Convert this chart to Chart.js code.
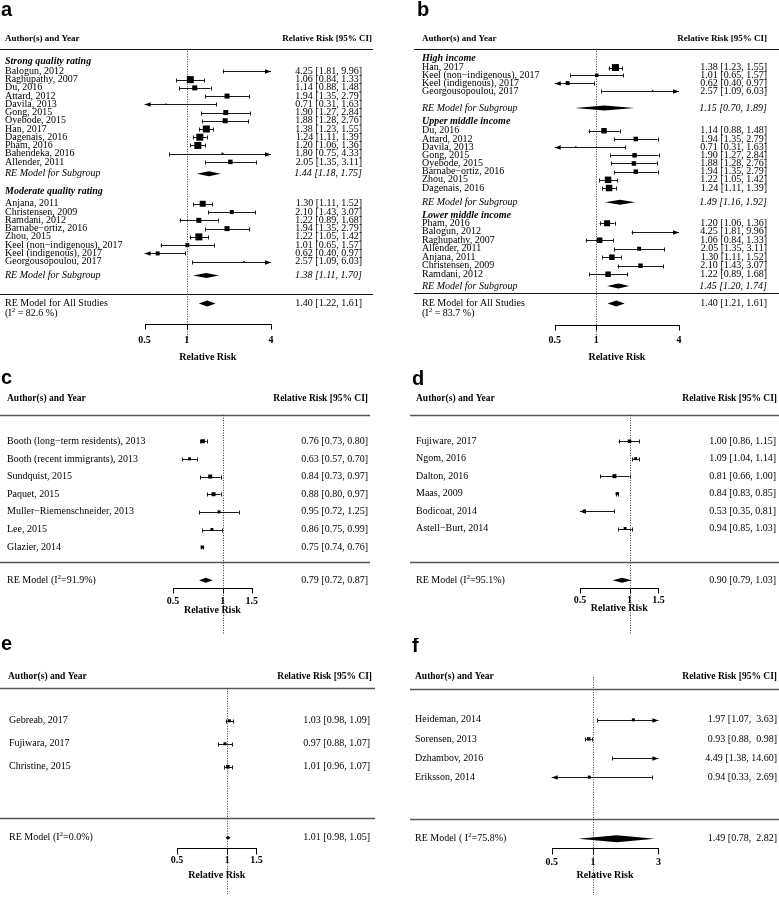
<!DOCTYPE html>
<html lang="en">
<head>
<meta charset="UTF-8">
<title>Forest plots a-f</title>
<script src="https://cdn.jsdelivr.net/npm/chart.js@4.4.0/dist/chart.umd.min.js"></script>
<style>
  html, body { margin: 0; padding: 0; background: #fff; }
  #fig { position: relative; width: 779px; height: 899px; overflow: hidden; }
  #fig canvas { position: absolute; }
</style>
</head>
<body>
<div id="fig">
  <canvas id="pa"></canvas><canvas id="pb"></canvas>
  <canvas id="pc"></canvas><canvas id="pd"></canvas>
  <canvas id="pe"></canvas><canvas id="pf"></canvas>
</div>
<script>
// ---------- data ----------
// a: by study quality
const aStrongStudies = ['Balogun, 2012', 'Raghupathy, 2007', 'Du, 2016', 'Attard, 2012', 'Davila, 2013', 'Gong, 2015',
  'Oyebode, 2015', 'Han, 2017', 'Dagenais, 2016', 'Pham, 2016', 'Bahendeka, 2016', 'Allender, 2011'];
const aStrongRR = [4.25, 1.06, 1.14, 1.94, 0.71, 1.90, 1.88, 1.38, 1.24, 1.20, 1.80, 2.05];
const aStrongLo = [1.81, 0.84, 0.88, 1.35, 0.31, 1.27, 1.28, 1.23, 1.11, 1.06, 0.75, 1.35];
const aStrongHi = [9.96, 1.33, 1.48, 2.79, 1.63, 2.84, 2.76, 1.55, 1.39, 1.36, 4.33, 3.11];
const aStrongSub = [1.44, 1.18, 1.75];
const aModStudies = ['Anjana, 2011', 'Christensen, 2009', 'Ramdani, 2012', 'Barnabe\u2212ortiz, 2016', 'Zhou, 2015',
  'Keel (non\u2212indigenous), 2017', 'Keel (indigenous), 2017', 'Georgousopoulou, 2017'];
const aModRR = [1.30, 2.10, 1.22, 1.94, 1.22, 1.01, 0.62, 2.57];
const aModLo = [1.11, 1.43, 0.89, 1.35, 1.05, 0.65, 0.40, 1.09];
const aModHi = [1.52, 3.07, 1.68, 2.79, 1.42, 1.57, 0.97, 6.03];
const aModSub = [1.38, 1.11, 1.70];
const aAll = [1.40, 1.22, 1.61];
const aI2 = 82.6;
const aTicks = [0.5, 1, 4];

// b: by country income
const bHighStudies = ['Han, 2017', 'Keel (non\u2212indigenous), 2017', 'Keel (indigenous), 2017', 'Georgousopoulou, 2017'];
const bHighRR = [1.38, 1.01, 0.62, 2.57];
const bHighLo = [1.23, 0.65, 0.40, 1.09];
const bHighHi = [1.55, 1.57, 0.97, 6.03];
const bHighSub = [1.15, 0.70, 1.89];
const bUpperStudies = ['Du, 2016', 'Attard, 2012', 'Davila, 2013', 'Gong, 2015', 'Oyebode, 2015',
  'Barnabe\u2212ortiz, 2016', 'Zhou, 2015', 'Dagenais, 2016'];
const bUpperRR = [1.14, 1.94, 0.71, 1.90, 1.88, 1.94, 1.22, 1.24];
const bUpperLo = [0.88, 1.35, 0.31, 1.27, 1.28, 1.35, 1.05, 1.11];
const bUpperHi = [1.48, 2.79, 1.63, 2.84, 2.76, 2.79, 1.42, 1.39];
const bUpperSub = [1.49, 1.16, 1.92];
const bLowerStudies = ['Pham, 2016', 'Balogun, 2012', 'Raghupathy, 2007', 'Allender, 2011', 'Anjana, 2011',
  'Christensen, 2009', 'Ramdani, 2012'];
const bLowerRR = [1.20, 4.25, 1.06, 2.05, 1.30, 2.10, 1.22];
const bLowerLo = [1.06, 1.81, 0.84, 1.35, 1.11, 1.43, 0.89];
const bLowerHi = [1.36, 9.96, 1.33, 3.11, 1.52, 3.07, 1.68];
const bLowerSub = [1.45, 1.20, 1.74];
const bAll = [1.40, 1.21, 1.61];
const bI2 = 83.7;
const bTicks = [0.5, 1, 4];

// c
const cStudies = ['Booth (long\u2212term residents), 2013', 'Booth (recent immigrants), 2013', 'Sundquist, 2015',
  'Paquet, 2015', 'Muller\u2212Riemenschneider, 2013', 'Lee, 2015', 'Glazier, 2014'];
const cRR = [0.76, 0.63, 0.84, 0.88, 0.95, 0.86, 0.75];
const cLo = [0.73, 0.57, 0.73, 0.80, 0.72, 0.75, 0.74];
const cHi = [0.80, 0.70, 0.97, 0.97, 1.25, 0.99, 0.76];
const cAll = [0.79, 0.72, 0.87];
const cI2 = 91.9;
const cTicks = [0.5, 1, 1.5];

// d
const dStudies = ['Fujiware, 2017', 'Ngom, 2016', 'Dalton, 2016', 'Maas, 2009', 'Bodicoat, 2014', 'Astell\u2212Burt, 2014'];
const dRR = [1.00, 1.09, 0.81, 0.84, 0.53, 0.94];
const dLo = [0.86, 1.04, 0.66, 0.83, 0.35, 0.85];
const dHi = [1.15, 1.14, 1.00, 0.85, 0.81, 1.03];
const dAll = [0.90, 0.79, 1.03];
const dI2 = 95.1;
const dTicks = [0.5, 1, 1.5];

// e
const eStudies = ['Gebreab, 2017', 'Fujiwara, 2017', 'Christine, 2015'];
const eRR = [1.03, 0.97, 1.01];
const eLo = [0.98, 0.88, 0.96];
const eHi = [1.09, 1.07, 1.07];
const eAll = [1.01, 0.98, 1.05];
const eI2 = 0.0;
const eTicks = [0.5, 1, 1.5];

// f
const fStudies = ['Heideman, 2014', 'Sorensen, 2013', 'Dzhambov, 2016', 'Eriksson, 2014'];
const fRR = [1.97, 0.93, 4.49, 0.94];
const fLo = [1.07, 0.88, 1.38, 0.33];
const fHi = [3.63, 0.98, 14.60, 2.69];
const fAll = [1.49, 0.78, 2.82];
const fI2 = 75.8;
const fTicks = [0.5, 1, 3];

// ---------- square sizes (px), estimated from the plotted boxes ----------
const aStrongBox = [2, 7, 5, 5, 1.5, 5, 5, 7, 7, 7, 2, 4.5];
const aModBox = [6, 4, 5, 5, 7, 4, 4, 1.5];
const bHighBox = [7, 3.5, 4, 1.5];
const bUpperBox = [5.5, 4.5, 1.5, 4.5, 4.5, 4.5, 6.5, 6.5];
const bLowerBox = [6, 2, 5.5, 4, 5.5, 4.5, 5.5];
const cBox = [4, 3, 4, 4, 3, 3, 3];
const dBox = [3.5, 3, 4, 3, 3, 3];
const eBox = [3, 3, 3.5];
const fBox = [3, 3.5, 2, 3];

const SERIF = '"Liberation Serif", "Times New Roman", serif';
const SANS = '"Liberation Sans", Arial, sans-serif';

// panel geometry (canvas-relative px); y scale of each chart is in these px units
const panels = [
  { id: 'pa', letter: 'a', left: 0, top: 0, w: 390, h: 370,
    groups: [
      { title: 'Strong quality rating', names: aStrongStudies, rr: aStrongRR, lo: aStrongLo, hi: aStrongHi, box: aStrongBox, sub: aStrongSub },
      { title: 'Moderate quality rating', names: aModStudies, rr: aModRR, lo: aModLo, hi: aModHi, box: aModBox, sub: aModSub }
    ],
    all: aAll, i2: aI2, ticks: aTicks, alim: [0.5, 4],
    lay: { x0: [0.5, 143.3], x1: [4, 273], letter: [1, 16], headX: 5, labelX: 5, headRight: 372, valueX: 362,
      colHeadY: 35, rule1: 45, rule2: 297.3, ruleX: [0, 373], ruleColor: '#111', ruleWidth: 1,
      groups: [{ headY: 58.3, firstY: 68.3, step: 8.45, subY: 173.5 }, { headY: 192, firstY: 204.3, step: 8.5, subY: 278 }],
      allY: 306.7, i2Y: 316.7, axisY: 328.3, tickLen: 5, tickLabY: 345, xLabY: 362.5, refTop: 45, refBot: 345,
      twoLine: true, i2Pre: '(I', i2Post: ' = {v} %)', subH: 5, allH: 6, font: 10, headFont: 9 } },
  { id: 'pb', letter: 'b', left: 390, top: 0, w: 389, h: 370,
    groups: [
      { title: 'High income', names: bHighStudies, rr: bHighRR, lo: bHighLo, hi: bHighHi, box: bHighBox, sub: bHighSub },
      { title: 'Upper middle income', names: bUpperStudies, rr: bUpperRR, lo: bUpperLo, hi: bUpperHi, box: bUpperBox, sub: bUpperSub },
      { title: 'Lower middle income', names: bLowerStudies, rr: bLowerRR, lo: bLowerLo, hi: bLowerHi, box: bLowerBox, sub: bLowerSub }
    ],
    all: bAll, i2: bI2, ticks: bTicks, alim: [0.5, 4],
    lay: { x0: [0.5, 164], x1: [4, 291.5], letter: [27, 16], headX: 32, labelX: 32, headRight: 377, valueX: 377,
      colHeadY: 35, rule1: 45, rule2: 296, ruleX: [24, 389], ruleColor: '#111', ruleWidth: 1,
      groups: [{ headY: 55, firstY: 64.3, step: 8.0, subY: 106 }, { headY: 120, firstY: 129.3, step: 8.4, subY: 202.7 },
        { headY: 216, firstY: 224.3, step: 8.73, subY: 288.7 }],
      allY: 306.7, i2Y: 317.3, axisY: 329.3, tickLen: 5, tickLabY: 345, xLabY: 362, refTop: 45, refBot: 347,
      twoLine: true, i2Pre: '(I', i2Post: ' = {v} %)', subH: 5, allH: 6, font: 10, headFont: 9 } },
  { id: 'pc', letter: 'c', left: 0, top: 370, w: 390, h: 268,
    groups: [{ names: cStudies, rr: cRR, lo: cLo, hi: cHi, box: cBox }],
    all: cAll, i2: cI2, ticks: cTicks, alim: [0.5, 1.5],
    lay: { x0: [0.5, 172.5], x1: [1.5, 253], letter: [1, 14], headX: 7, labelX: 7, headRight: 368, valueX: 368,
      colHeadY: 25, rule1: 42.3, rule2: 194, ruleX: [0, 370], ruleColor: '#555', ruleWidth: 1.5,
      groups: [{ firstY: 69.3, step: 18.2 }],
      allY: 212.7, axisY: 220.7, tickLen: 5, tickLabY: 234, xLabY: 243.3, refTop: 42.3, refBot: 268,
      twoLine: false, i2Pre: 'RE Model (I', i2Post: '={v}%)', allH: 5, font: 10, headFont: 9.5 } },
  { id: 'pd', letter: 'd', left: 390, top: 370, w: 389, h: 268,
    groups: [{ names: dStudies, rr: dRR, lo: dLo, hi: dHi, box: dBox }],
    all: dAll, i2: dI2, ticks: dTicks, alim: [0.5, 1.5],
    lay: { x0: [0.5, 190], x1: [1.5, 270], letter: [22, 15], headX: 26, labelX: 26, headRight: 387, valueX: 386,
      colHeadY: 25, rule1: 42.3, rule2: 194, ruleX: [20, 389], ruleColor: '#555', ruleWidth: 1.5,
      groups: [{ firstY: 69.3, step: 18 }],
      allY: 212.7, axisY: 220.7, tickLen: 5, tickLabY: 233.3, xLabY: 241.7, refTop: 42.3, refBot: 268,
      twoLine: false, i2Pre: 'RE Model (I', i2Post: '={v}%)', allH: 5, font: 10, headFont: 9.5 } },
  { id: 'pe', letter: 'e', left: 0, top: 638, w: 390, h: 261,
    groups: [{ names: eStudies, rr: eRR, lo: eLo, hi: eHi, box: eBox }],
    all: eAll, i2: eI2, ticks: eTicks, alim: [0.5, 1.5],
    lay: { x0: [0.5, 176.7], x1: [1.5, 257.7], letter: [1, 12], headX: 8, labelX: 9, headRight: 372, valueX: 370,
      colHeadY: 36, rule1: 47.7, rule2: 181.3, ruleX: [0, 375], ruleColor: '#555', ruleWidth: 1.5,
      groups: [{ firstY: 81.3, step: 23.7 }],
      allY: 202, axisY: 212, tickLen: 6, tickLabY: 225.3, xLabY: 240.3, refTop: 47.7, refBot: 261,
      twoLine: false, i2Pre: 'RE Model (I', i2Post: '={v}%)', allH: 4, font: 10, headFont: 9.5 } },
  { id: 'pf', letter: 'f', left: 390, top: 638, w: 389, h: 261,
    groups: [{ names: fStudies, rr: fRR, lo: fLo, hi: fHi, box: fBox }],
    all: fAll, i2: fI2, ticks: fTicks, alim: [0.5, 3], padHi: true,
    lay: { x0: [0.5, 161], x1: [3, 270], letter: [22, 14], headX: 25, labelX: 25, headRight: 387, valueX: 387,
      colHeadY: 36, rule1: 48, rule2: 182.7, ruleX: [20, 389], ruleColor: '#555', ruleWidth: 1.5,
      groups: [{ firstY: 80.3, step: 19.7 }],
      allY: 203, axisY: 212.7, tickLen: 6, tickLabY: 227, xLabY: 241, refTop: 36, refBot: 261,
      twoLine: false, i2Pre: 'RE Model ( I', i2Post: '={v}%)', allH: 7, font: 10, headFont: 9.5 } }
];

function fmt(v) { return v.toFixed(2); }
function ciText(e, l, h, padHi) {
  const hs = padHi ? fmt(h).padStart(5, ' ') : fmt(h);
  return fmt(e) + ' [' + fmt(l) + ', ' + hs + ']';
}

function buildRows(p) {
  const rows = [];
  p.groups.forEach((g, gi) => {
    const G = p.lay.groups[gi];
    if (g.title) rows.push({ kind: 'head', y: G.headY, text: g.title });
    g.names.forEach((n, i) => rows.push({ kind: 'study', y: G.firstY + i * G.step, name: n,
      rr: g.rr[i], lo: g.lo[i], hi: g.hi[i], box: g.box[i] }));
    if (g.sub) rows.push({ kind: 'sub', y: G.subY, est: g.sub });
  });
  return rows;
}

// text with a superscript piece
function richText(ctx, parts, x, y, size) {
  let cx = x;
  ctx.textAlign = 'left';
  parts.forEach(pt => {
    const s = pt.sup ? size * 0.7 : size;
    ctx.font = s + 'px ' + SERIF;
    ctx.fillText(pt.t, cx, pt.sup ? y - size * 0.35 : y);
    cx += ctx.measureText(pt.t).width;
  });
}

function forestPlugin(p, rows) {
  const L = p.lay;
  return {
    id: 'forest',
    beforeDatasetsDraw(chart) {
      const ctx = chart.ctx, xs = chart.scales.x, ys = chart.scales.y;
      const X = v => xs.getPixelForValue(v);
      const Y = v => ys.getPixelForValue(v);
      const crisp = v => Math.round(v) + 0.5;
      const [alo, ahi] = p.alim;
      const fs = L.font;
      const hline = (x1, x2, y) => { ctx.beginPath(); ctx.moveTo(x1, y); ctx.lineTo(x2, y); ctx.stroke(); };
      const vline = (x, y1, y2) => { ctx.beginPath(); ctx.moveTo(x, y1); ctx.lineTo(x, y2); ctx.stroke(); };
      const diamond = (est, lo, hi, y, h) => {
        ctx.beginPath();
        ctx.moveTo(X(lo), y); ctx.lineTo(X(est), y - h / 2); ctx.lineTo(X(hi), y); ctx.lineTo(X(est), y + h / 2);
        ctx.closePath(); ctx.fill();
      };
      ctx.save();
      ctx.fillStyle = '#000';

      // panel letter
      ctx.textBaseline = 'alphabetic';
      ctx.textAlign = 'left';
      ctx.font = 'bold 20px ' + SANS;
      ctx.fillText(p.letter, L.letter[0], L.letter[1]);

      // column headers
      ctx.textBaseline = 'middle';
      ctx.font = 'bold ' + L.headFont + 'px ' + SERIF;
      ctx.fillText('Author(s) and Year', L.headX, Y(L.colHeadY));
      ctx.textAlign = 'right';
      ctx.fillText('Relative Risk [95% CI]', L.headRight, Y(L.colHeadY));

      // horizontal rules
      ctx.strokeStyle = L.ruleColor;
      ctx.lineWidth = L.ruleWidth;
      hline(L.ruleX[0], L.ruleX[1], crisp(Y(L.rule1)));
      hline(L.ruleX[0], L.ruleX[1], crisp(Y(L.rule2)));

      // reference line at RR = 1
      ctx.strokeStyle = '#333';
      ctx.lineWidth = 1;
      ctx.setLineDash([1, 1.5]);
      vline(crisp(X(1)), Y(L.refTop), Y(L.refBot));
      ctx.setLineDash([]);

      // x axis
      ctx.strokeStyle = '#000';
      const ay = crisp(Y(L.axisY));
      hline(crisp(X(alo)) - 0.5, crisp(X(ahi)) + 0.5, ay);
      p.ticks.forEach(t => vline(crisp(X(t)), ay, ay + L.tickLen));
      ctx.font = 'bold ' + fs + 'px ' + SERIF;
      ctx.textAlign = 'center';
      p.ticks.forEach(t => ctx.fillText(String(t), X(t), Y(L.tickLabY)));
      ctx.fillText('Relative Risk', (X(alo) + X(ahi)) / 2, Y(L.xLabY));

      // study rows
      rows.forEach(r => {
        const y = Y(r.y);
        if (r.kind === 'head') {
          ctx.textAlign = 'left';
          ctx.font = 'italic bold ' + fs + 'px ' + SERIF;
          ctx.fillText(r.text, L.labelX, y);
        } else if (r.kind === 'study') {
          ctx.textAlign = 'left';
          ctx.font = fs + 'px ' + SERIF;
          ctx.fillText(r.name, L.labelX, y);
          ctx.textAlign = 'right';
          ctx.fillText(ciText(r.rr, r.lo, r.hi, p.padHi), L.valueX, y);
          // CI line, end caps or arrows where it leaves the axis limits
          const yy = crisp(y);
          const x1 = X(Math.max(r.lo, alo)), x2 = X(Math.min(r.hi, ahi));
          ctx.strokeStyle = '#1a1a1a';
          ctx.lineWidth = 1;
          hline(x1, x2, yy);
          if (r.lo >= alo) vline(crisp(x1), yy - 2, yy + 2);
          else { ctx.beginPath(); ctx.moveTo(x1, yy); ctx.lineTo(x1 + 6, yy - 2.2); ctx.lineTo(x1 + 6, yy + 2.2); ctx.closePath(); ctx.fill(); }
          if (r.hi <= ahi) vline(crisp(x2), yy - 2, yy + 2);
          else { ctx.beginPath(); ctx.moveTo(x2, yy); ctx.lineTo(x2 - 6, yy - 2.2); ctx.lineTo(x2 - 6, yy + 2.2); ctx.closePath(); ctx.fill(); }
        } else if (r.kind === 'sub') {
          ctx.textAlign = 'left';
          ctx.font = 'italic ' + fs + 'px ' + SERIF;
          ctx.fillText('RE Model for Subgroup', L.labelX, y);
          ctx.textAlign = 'right';
          ctx.fillText(ciText(r.est[0], r.est[1], r.est[2]), L.valueX, y);
          diamond(r.est[0], r.est[1], r.est[2], y, L.subH);
        }
      });

      // overall RE model
      const ya = Y(L.allY);
      const i2parts = [{ t: L.i2Pre }, { t: '2', sup: true }, { t: L.i2Post.replace('{v}', p.i2.toFixed(1)) }];
      ctx.font = fs + 'px ' + SERIF;
      if (L.twoLine) {
        ctx.textAlign = 'left';
        ctx.fillText('RE Model for All Studies', L.labelX, ya);
        richText(ctx, i2parts, L.labelX, Y(L.i2Y), fs);
      } else {
        richText(ctx, i2parts, L.labelX, ya, fs);
      }
      ctx.font = fs + 'px ' + SERIF;
      ctx.textAlign = 'right';
      ctx.fillText(ciText(p.all[0], p.all[1], p.all[2], p.padHi), L.valueX, ya);
      diamond(p.all[0], p.all[1], p.all[2], ya, L.allH);
      ctx.restore();
    }
  };
}

function logBounds(L, w) {
  const k = (L.x1[1] - L.x0[1]) / Math.log(L.x1[0] / L.x0[0]);
  return [L.x0[0] * Math.exp(-L.x0[1] / k), L.x0[0] * Math.exp((w - L.x0[1]) / k)];
}

panels.forEach(p => {
  const canvas = document.getElementById(p.id);
  canvas.width = p.w;
  canvas.height = p.h;
  canvas.style.left = p.left + 'px';
  canvas.style.top = p.top + 'px';
  const rows = buildRows(p);
  const boxes = rows.filter(r => r.kind === 'study' && r.rr >= p.alim[0] && r.rr <= p.alim[1])
    .map(r => ({ x: r.rr, y: r.y, s: r.box }));
  const [xmin, xmax] = logBounds(p.lay, p.w);
  new Chart(canvas, {
    type: 'scatter',
    data: {
      datasets: [{
        data: boxes,
        pointStyle: 'rect',
        pointRadius: c => boxes[c.dataIndex] ? boxes[c.dataIndex].s / Math.SQRT2 : 0,
        backgroundColor: '#000',
        borderWidth: 0
      }]
    },
    options: {
      responsive: false,
      animation: false,
      events: [],
      layout: { padding: 0 },
      plugins: { legend: { display: false }, tooltip: { enabled: false } },
      scales: {
        x: { type: 'logarithmic', display: false, bounds: 'data', min: xmin, max: xmax },
        y: { type: 'linear', display: false, bounds: 'data', reverse: true, min: 0, max: p.h }
      }
    },
    plugins: [forestPlugin(p, rows)]
  });
});
</script>
</body>
</html>
